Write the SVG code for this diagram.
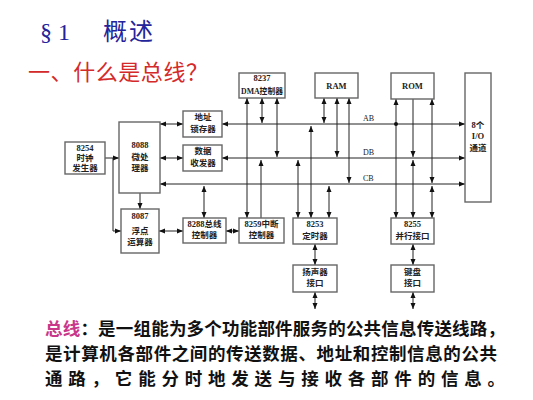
<svg xmlns="http://www.w3.org/2000/svg" width="533" height="400" viewBox="0 0 533 400">
<style>
.box{fill:#fff;stroke:#666;stroke-width:1.4}
.lb{font-family:"Liberation Serif","Noto Sans CJK SC",serif;font-weight:bold;font-size:8.5px;fill:#222;text-anchor:middle}
.bus{font-family:"Liberation Serif","Noto Sans CJK SC",serif;font-size:8px;fill:#222}
.ln{stroke:#222;stroke-width:1;fill:none}
.e{marker-end:url(#ar)}
.d{marker-start:url(#ar);marker-end:url(#ar)}
.para{font-family:"Noto Sans CJK SC",sans-serif;font-weight:bold;font-size:17.5px;fill:#111}
</style>
<defs>
<marker id="ar" viewBox="0 0 6 6" refX="6" refY="3" markerWidth="6" markerHeight="6" markerUnits="userSpaceOnUse" orient="auto-start-reverse">
<path d="M0,0.5 L6,3 L0,5.5 z" fill="#111"/>
</marker>
</defs>
<rect width="533" height="400" fill="#fff"/>
<g id="title">
<text x="40" y="40" font-family="Liberation Serif,Noto Sans CJK SC,serif" font-size="24" fill="#23239a" textLength="30" lengthAdjust="spacing">§1</text>
<text x="103" y="40" font-family="Noto Sans CJK SC,sans-serif" font-size="24" fill="#23239a" textLength="50" lengthAdjust="spacing">概述</text>
<text x="28" y="80" font-family="Noto Sans CJK SC,sans-serif" font-size="22" fill="#d42a2a" textLength="180" lengthAdjust="spacing">一、什么是总线？</text>
</g>
<g id="connectors">
<line class="ln d" x1="222" y1="124" x2="465" y2="124"/>
<line class="ln d" x1="222" y1="158" x2="465" y2="158"/>
<line class="ln d" x1="160" y1="184" x2="465" y2="184"/>
<line class="ln d" x1="160" y1="124" x2="183" y2="124"/>
<line class="ln d" x1="160" y1="158" x2="183" y2="158"/>
<line class="ln e" x1="105" y1="158" x2="119" y2="158"/>
<polyline class="ln e" points="113,158 113,231 121,231"/>
<line class="ln e" x1="140" y1="193" x2="140" y2="209"/>
<line class="ln d" x1="159" y1="231" x2="183" y2="231"/>
<line class="ln d" x1="226" y1="231" x2="239" y2="231"/>
<line class="ln d" x1="204" y1="186" x2="204" y2="218"/>
<line class="ln d" x1="247" y1="98" x2="247" y2="218"/>
<line class="ln d" x1="262" y1="98" x2="262" y2="123"/>
<line class="ln d" x1="277" y1="98" x2="277" y2="157"/>
<line class="ln e" x1="261" y1="218" x2="261" y2="160"/>
<line class="ln d" x1="324" y1="98" x2="324" y2="123"/>
<line class="ln d" x1="337" y1="98" x2="337" y2="157"/>
<line class="ln d" x1="349" y1="98" x2="349" y2="183"/>
<line class="ln d" x1="298" y1="160" x2="298" y2="218"/>
<line class="ln d" x1="311" y1="126" x2="311" y2="218"/>
<line class="ln d" x1="329" y1="186" x2="329" y2="218"/>
<line class="ln d" x1="396" y1="99" x2="396" y2="218"/>
<circle cx="396" cy="124" r="2" fill="#111"/>
<line class="ln e" x1="413" y1="99" x2="413" y2="157"/>
<line class="ln d" x1="413" y1="160" x2="413" y2="218"/>
<line class="ln d" x1="432" y1="99" x2="432" y2="183"/>
<line class="ln d" x1="432" y1="186" x2="432" y2="218"/>
<line class="ln d" x1="315" y1="244" x2="315" y2="265"/>
<line class="ln d" x1="413" y1="244" x2="413" y2="265"/>
<line class="ln d" x1="315" y1="292" x2="315" y2="309"/>
<line class="ln d" x1="413" y1="292" x2="413" y2="309"/>
<text class="bus" x="363" y="121">AB</text>
<text class="bus" x="363" y="155">DB</text>
<text class="bus" x="363" y="181">CB</text>
</g>
<g id="n8254"><rect class="box" x="65" y="142" width="40" height="32"/>
<text class="lb" x="85" y="151">8254</text><text class="lb" x="85" y="161">时钟</text><text class="lb" x="85" y="171">发生器</text></g>
<g id="n8088"><rect class="box" x="119" y="122" width="41" height="71"/>
<text class="lb" x="140" y="148">8088</text><text class="lb" x="140" y="160">微处</text><text class="lb" x="140" y="171">理器</text></g>
<g id="n8087"><rect class="box" x="121" y="209" width="38" height="44"/>
<text class="lb" x="140" y="219">8087</text><text class="lb" x="140" y="234">浮点</text><text class="lb" x="140" y="245">运算器</text></g>
<g id="latch"><rect class="box" x="183" y="111" width="39" height="26"/>
<text class="lb" x="203" y="120">地址</text><text class="lb" x="203" y="132">锁存器</text></g>
<g id="transceiver"><rect class="box" x="183" y="145" width="39" height="26"/>
<text class="lb" x="203" y="154">数据</text><text class="lb" x="203" y="166">收发器</text></g>
<g id="n8237"><rect class="box" x="239" y="73" width="46" height="25"/>
<text class="lb" x="262" y="81">8237</text><text class="lb" x="262" y="94" textLength="42" lengthAdjust="spacingAndGlyphs">DMA控制器</text></g>
<g id="ram"><rect class="box" x="315" y="73" width="43" height="25"/>
<text class="lb" x="336.5" y="89">RAM</text></g>
<g id="rom"><rect class="box" x="391" y="73" width="43" height="26"/>
<text class="lb" x="412.5" y="89">ROM</text></g>
<g id="io"><rect class="box" x="465" y="73" width="26" height="129"/>
<text class="lb" x="478" y="128">8个</text><text class="lb" x="478" y="139">I/O</text><text class="lb" x="478" y="151">通道</text></g>
<g id="n8288"><rect class="box" x="183" y="218" width="43" height="25"/>
<text class="lb" x="204.5" y="227">8288总线</text><text class="lb" x="204.5" y="238">控制器</text></g>
<g id="n8259"><rect class="box" x="239" y="218" width="45" height="25"/>
<text class="lb" x="261.5" y="227">8259中断</text><text class="lb" x="261.5" y="238">控制器</text></g>
<g id="n8253"><rect class="box" x="293" y="218" width="44" height="26"/>
<text class="lb" x="315" y="227">8253</text><text class="lb" x="315" y="239">定时器</text></g>
<g id="n8255"><rect class="box" x="391" y="218" width="43" height="26"/>
<text class="lb" x="412.5" y="227">8255</text><text class="lb" x="412.5" y="239">并行接口</text></g>
<g id="speaker"><rect class="box" x="293" y="265" width="44" height="27"/>
<text class="lb" x="315" y="275">扬声器</text><text class="lb" x="315" y="286">接口</text></g>
<g id="keyboard"><rect class="box" x="391" y="265" width="43" height="27"/>
<text class="lb" x="412.5" y="275">键盘</text><text class="lb" x="412.5" y="286">接口</text></g>
<g id="desc">
<text class="para" x="45" y="335" textLength="460" lengthAdjust="spacing"><tspan fill="#c8378a">总线</tspan>：是一组能为多个功能部件服务的公共信息传送线路，</text>
<text class="para" x="45" y="360" textLength="452" lengthAdjust="spacing">是计算机各部件之间的传送数据、地址和控制信息的公共</text>
<text class="para" x="45" y="385" textLength="460" lengthAdjust="spacing">通路，它能分时地发送与接收各部件的信息。</text>
</g>
</svg>
